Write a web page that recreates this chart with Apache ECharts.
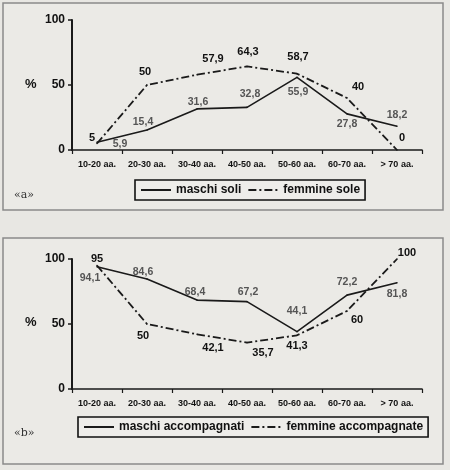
<!DOCTYPE html>
<html>
<head>
<meta charset="utf-8">
<script src="https://cdn.jsdelivr.net/npm/echarts@6/dist/echarts.min.js"></script>
<style>
html,body{margin:0;padding:0;background:#e8e7e3;}
#c{width:450px;height:470px;}
</style>
</head>
<body>
<div id="c"></div>
<script>
// ---- data ----
const categories = ['10-20 aa.', '20-30 aa.', '30-40 aa.', '40-50 aa.', '50-60 aa.', '60-70 aa.', '> 70 aa.'];
const maschiSoli = [5.9, 15.4, 31.6, 32.8, 55.9, 27.8, 18.2];
const femmineSole = [5, 50, 57.9, 64.3, 58.7, 40, 0];
const maschiAccompagnati = [94.1, 84.6, 68.4, 67.2, 44.1, 72.2, 81.8];
const femmineAccompagnate = [95, 50, 42.1, 35.7, 41.3, 60, 100];
const yTicks = [0, 50, 100];

// ---- label placement (style only) ----
const offMS = [[23,2],[-4,-8],[1,-7],[3,-13],[1,15],[0,10],[0,-11]];
const offFS = [[-5,-6],[-2,-13],[16,-16],[1,-14],[1,-17],[11,-11],[5,-12]];
const offMA = [[-7,11],[-4,-7],[-2,-8],[1,-10],[0,-21],[0,-13],[0,11]];
const offFA = [[0,-7],[-4,12],[16,14],[16,10],[0,11],[10,9],[10,-6]];

const FONT = '"Liberation Sans", Arial, sans-serif';
const INK = '#1a1a1a';
const dashDot = [8, 3, 2, 3];

function fmt(v) { return String(v).replace('.', ','); }
function items(vals, offs) {
  return vals.map((v, i) => ({
    value: v,
    label: { position: 'inside', offset: offs[i] }
  }));
}
function mkSeries(name, vals, offs, dark, dashed, idx) {
  return {
    name: name, type: 'line', xAxisIndex: idx, yAxisIndex: idx,
    data: items(vals, offs),
    symbol: 'circle', symbolSize: 1.5, showSymbol: true,
    itemStyle: { color: INK },
    lineStyle: { color: INK, width: dashed ? 1.8 : 1.6, type: dashed ? dashDot : 'solid' },
    label: {
      show: true, formatter: p => fmt(p.value),
      fontFamily: FONT, fontSize: dark ? 11 : 10.5, fontWeight: 'bold',
      color: dark ? '#111' : '#555'
    },
    emphasis: { disabled: true },
    animation: false, z: 3
  };
}
function xAx(idx) {
  return {
    type: 'category', gridIndex: idx, data: categories, boundaryGap: true,
    axisLine: { lineStyle: { color: INK, width: 1.6 } },
    axisTick: { show: true, length: 4, inside: false, lineStyle: { color: INK, width: 1.2 } },
    axisLabel: { fontFamily: FONT, fontSize: 9, fontWeight: 'bold', color: '#111', margin: 10, interval: 0 },
    splitLine: { show: false }
  };
}
function yAx(idx) {
  return {
    type: 'value', gridIndex: idx, min: yTicks[0], max: yTicks[yTicks.length - 1], interval: 50,
    axisLine: { show: true, lineStyle: { color: INK, width: 2 } },
    axisTick: { show: true, length: 4, lineStyle: { color: INK, width: 1.5 } },
    axisLabel: { fontFamily: FONT, fontSize: 12, fontWeight: 'bold', color: '#111', margin: 7 },
    splitLine: { show: false }
  };
}
function legendCfg(names, left, top) {
  return {
    data: names, left: left, top: top, orient: 'horizontal',
    itemWidth: 30, itemHeight: 12, itemGap: 6,
    borderColor: '#111', borderWidth: 1.6, padding: [4, 5],
    backgroundColor: '#eeedea',
    itemStyle: { opacity: 0 },
    textStyle: { fontFamily: FONT, fontSize: 12, fontWeight: 'bold', color: '#111' },
    selectedMode: false
  };
}

const chart = echarts.init(document.getElementById('c'), null, { renderer: 'canvas' });
chart.setOption({
  backgroundColor: '#e8e7e3',
  animation: false,
  graphic: [
    { type: 'rect', shape: { x: 3, y: 3, width: 440, height: 207 }, style: { fill: '#ebeae6', stroke: '#8a8a8a', lineWidth: 1.5 }, z: 0 },
    { type: 'rect', shape: { x: 3, y: 238, width: 440, height: 226 }, style: { fill: '#ebeae6', stroke: '#8a8a8a', lineWidth: 1.5 }, z: 0 },
    { type: 'text', left: 25, top: 78, style: { text: '%', font: 'bold 13px ' + FONT, fill: '#111' }, z: 5 },
    { type: 'text', left: 25, top: 316, style: { text: '%', font: 'bold 13px ' + FONT, fill: '#111' }, z: 5 },
    { type: 'text', left: 14, top: 190, style: { text: '«a»', font: '11px "DejaVu Serif", serif', fill: '#333' }, z: 5 },
    { type: 'text', left: 14, top: 428, style: { text: '«b»', font: '11px "DejaVu Serif", serif', fill: '#333' }, z: 5 }
  ],
  grid: [
    { left: 72, top: 20, width: 350, height: 130, containLabel: false },
    { left: 72, top: 259, width: 350, height: 130, containLabel: false }
  ],
  xAxis: [xAx(0), xAx(1)],
  yAxis: [yAx(0), yAx(1)],
  legend: [
    legendCfg(['maschi soli', 'femmine sole'], 135, 180),
    legendCfg(['maschi accompagnati', 'femmine accompagnate'], 78, 417)
  ],
  series: [
    mkSeries('maschi soli', maschiSoli, offMS, false, false, 0),
    mkSeries('femmine sole', femmineSole, offFS, true, true, 0),
    mkSeries('maschi accompagnati', maschiAccompagnati, offMA, false, false, 1),
    mkSeries('femmine accompagnate', femmineAccompagnate, offFA, true, true, 1)
  ]
});
</script>
</body>
</html>
